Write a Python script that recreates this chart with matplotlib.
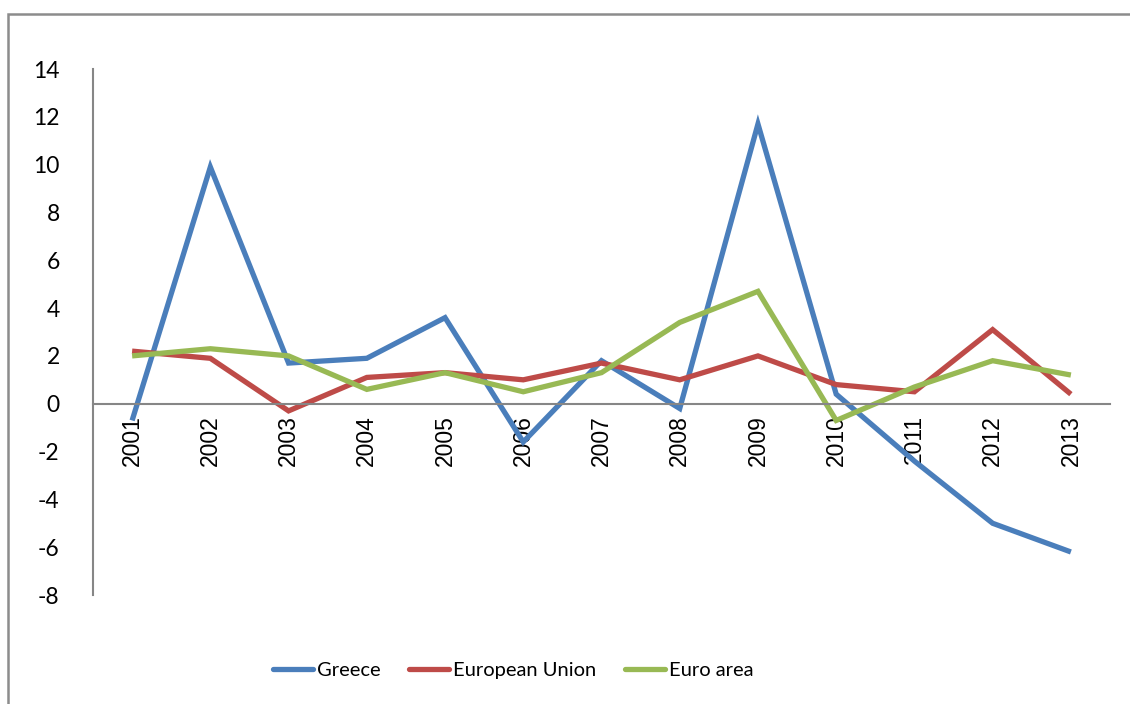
import matplotlib
matplotlib.use("Agg")
import matplotlib.pyplot as plt
from matplotlib.patches import Rectangle
from matplotlib.lines import Line2D

years = ["2001", "2002", "2003", "2004", "2005", "2006", "2007",
         "2008", "2009", "2010", "2011", "2012", "2013"]
greece = [-0.7, 9.9, 1.7, 1.9, 3.6, -1.6, 1.8, -0.2, 11.7, 0.4, -2.4, -5.0, -6.2]
eu = [2.2, 1.9, -0.3, 1.1, 1.3, 1.0, 1.7, 1.0, 2.0, 0.8, 0.5, 3.1, 0.4]
euro = [2.0, 2.3, 2.0, 0.6, 1.3, 0.5, 1.3, 3.4, 4.7, -0.7, 0.7, 1.8, 1.2]
series_names = ["Greece", "European Union", "Euro area"]
colors = ["#4A7EBB", "#BE4B48", "#98B954"]
yticks = list(range(-8, 15, 2))

W, H = 1130, 704
fig = plt.figure(figsize=(W / 100, H / 100), dpi=100)
ax = fig.add_axes([93 / W, 1 - 595 / H, (1110 - 93) / W, (595 - 69) / H])

for s in ["top", "right"]:
    ax.spines[s].set_visible(False)
ax.spines["bottom"].set_position(("data", 0))
ax.spines["bottom"].set_color("#868686")
ax.spines["left"].set_color("#868686")
ax.spines["bottom"].set_linewidth(1.5)
ax.spines["left"].set_linewidth(1.5)

x = list(range(len(years)))
for vals, c in zip([greece, eu, euro], colors):
    ax.plot(x, vals, color=c, lw=3.8, solid_joinstyle="miter", solid_capstyle="butt")

ax.set_xlim(-0.5, len(years) - 0.5)
ax.set_ylim(-8, 14)
ax.set_yticks(yticks)
ax.set_yticklabels([str(v) for v in yticks], fontsize=16.5, family="Lato")
ax.set_xticks(x)
ax.set_xticklabels(years, rotation=90, fontsize=16.5, family="Liberation Sans", va="top")
ax.tick_params(axis="y", length=0, pad=24)
ax.tick_params(axis="x", length=0, pad=8)

# outer chart frame
fig.patches.append(Rectangle((8 / W, -0.1), 1.2, 1 - 14 / H + 0.1,
                             transform=fig.transFigure, fill=False,
                             edgecolor="#8C8C8C", lw=1.8))

handles = [Line2D([0], [0], color=c, lw=3.8, solid_capstyle="round") for c in colors]
fig.legend(handles, series_names, loc="center", bbox_to_anchor=(513 / W, 1 - 670 / H),
           ncol=3, frameon=False, prop={"family": "Lato", "size": 14.5},
           handlelength=2.0, handletextpad=0.2, columnspacing=1.4)

fig.savefig("out.png", dpi=100)
